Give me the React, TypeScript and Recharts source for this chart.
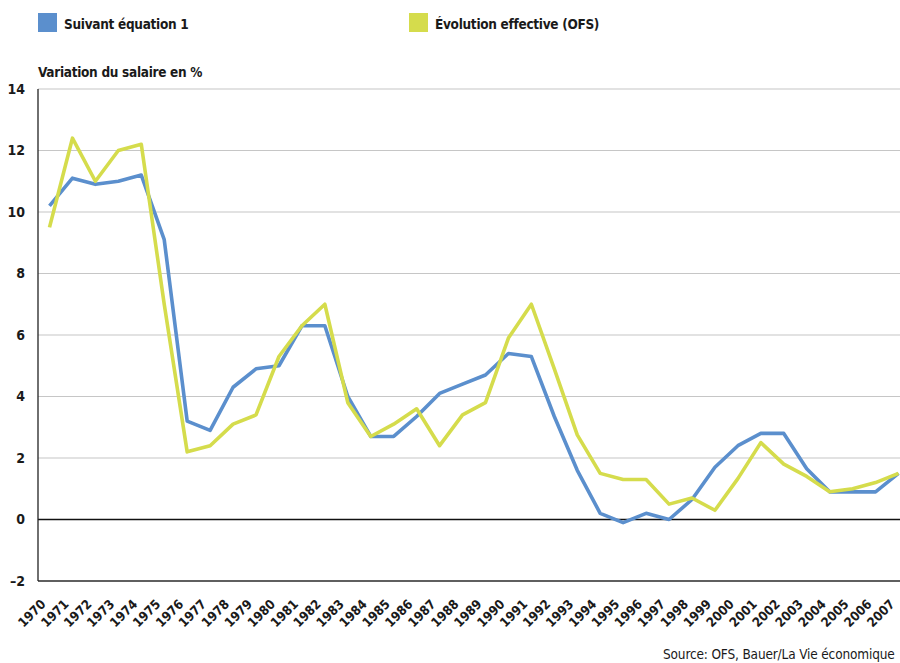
import React from 'react';
import { LineChart, Line, XAxis, YAxis, CartesianGrid, ReferenceLine } from 'recharts';

const years = [
  '1970', '1971', '1972', '1973', '1974', '1975', '1976', '1977', '1978', '1979',
  '1980', '1981', '1982', '1983', '1984', '1985', '1986', '1987', '1988', '1989',
  '1990', '1991', '1992', '1993', '1994', '1995', '1996', '1997', '1998', '1999',
  '2000', '2001', '2002', '2003', '2004', '2005', '2006', '2007',
];

const suivantEquation = [
  10.2, 11.1, 10.9, 11.0, 11.2, 9.1, 3.2, 2.9, 4.3, 4.9,
  5.0, 6.3, 6.3, 4.0, 2.7, 2.7, 3.35, 4.1, 4.4, 4.7,
  5.4, 5.3, 3.35, 1.6, 0.2, -0.1, 0.2, 0.0, 0.65, 1.7,
  2.4, 2.8, 2.8, 1.65, 0.9, 0.9, 0.9, 1.5,
];

const evolutionEffective = [
  9.5, 12.4, 11.0, 12.0, 12.2, 7.0, 2.2, 2.4, 3.1, 3.4,
  5.3, 6.3, 7.0, 3.8, 2.7, 3.1, 3.6, 2.4, 3.4, 3.8,
  5.9, 7.0, 4.9, 2.75, 1.5, 1.3, 1.3, 0.5, 0.7, 0.3,
  1.33, 2.5, 1.8, 1.4, 0.9, 1.0, 1.2, 1.5,
];

const yTicks = [-2, 0, 2, 4, 6, 8, 10, 12, 14];

const legendLabels = ['Suivant équation 1', 'Évolution effective (OFS)'];
const axisTitle = 'Variation du salaire en %';
const sourceText = 'Source: OFS, Bauer/La Vie économique';

const BLUE = '#5b8fcd';
const YELLOW = '#d5dc4c';
const FONT = "'Liberation Sans Narrow', 'DejaVu Sans Condensed', 'Arial Narrow', sans-serif";

const data = years.map((year, i) => ({
  year,
  eq: suivantEquation[i],
  ofs: evolutionEffective[i],
}));

const XTick = (props: any) => {
  const { x, y, payload } = props;
  return (
    <g transform={`translate(${x - 3},${y + 16})`}>
      <text
        transform="rotate(-45)"
        textAnchor="end"
        fontFamily={FONT}
        fontWeight="bold"
        fontSize={13}
        fill="#1a1a1a"
      >
        {payload.value}
      </text>
    </g>
  );
};

const fmtY = (v: number) => (v < 0 ? `\u2013${Math.abs(v)}` : `${v}`);

const labelStyle: React.CSSProperties = {
  position: 'absolute',
  lineHeight: '20px',
  fontSize: 13.5,
  letterSpacing: -0.3,
  fontWeight: 'bold',
  color: '#1a1a1a',
  whiteSpace: 'nowrap',
};

export default function App() {
  return (
    <div
      style={{
        position: 'absolute',
        left: 0,
        top: 0,
        width: 900,
        height: 663,
        overflow: 'hidden',
        background: '#ffffff',
        fontFamily: FONT,
      }}
    >
      <div style={{ position: 'absolute', left: 38, top: 13, width: 19, height: 19, background: BLUE }} />
      <div style={{ ...labelStyle, left: 64, top: 14 }}>{legendLabels[0]}</div>
      <div style={{ position: 'absolute', left: 409, top: 13, width: 19, height: 19, background: YELLOW }} />
      <div style={{ ...labelStyle, left: 435, top: 14 }}>{legendLabels[1]}</div>
      <div style={{ ...labelStyle, left: 38, top: 62 }}>{axisTitle}</div>
      <div
        style={{
          position: 'absolute',
          left: 663,
          top: 644,
          lineHeight: '20px',
          fontSize: 13.5,
          letterSpacing: -0.15,
          color: '#1a1a1a',
          whiteSpace: 'nowrap',
        }}
      >
        {sourceText}
      </div>
      <div style={{ position: 'absolute', left: 0, top: 0 }}>
        <LineChart
          width={910}
          height={663}
          data={data}
          margin={{ top: 89, right: 0, bottom: 22, left: 0 }}
        >
          <CartesianGrid vertical={false} stroke="#c6c6c6" strokeWidth={1.2} />
          <XAxis
            dataKey="year"
            interval={0}
            height={60}
            padding={{ left: 11.5, right: 11.5 }}
            tickLine={false}
            axisLine={{ stroke: '#333333', strokeWidth: 1.5 }}
            tick={<XTick />}
          />
          <YAxis
            width={38}
            domain={[-2, 14]}
            ticks={yTicks}
            interval={0}
            tickFormatter={fmtY}
            tickLine={false}
            tickMargin={7}
            axisLine={{ stroke: '#222222', strokeWidth: 1.3 }}
            tick={{ fontFamily: FONT, fontWeight: 'bold', fontSize: 14, fill: '#1a1a1a' }}
          />
          <ReferenceLine y={0} stroke="#111111" strokeWidth={1.3} />
          <Line
            type="linear"
            dataKey="eq"
            stroke={BLUE}
            strokeWidth={3.6}
            strokeLinejoin="round"
            dot={false}
            activeDot={false}
            isAnimationActive={false}
          />
          <Line
            type="linear"
            dataKey="ofs"
            stroke={YELLOW}
            strokeWidth={3.6}
            strokeLinejoin="round"
            dot={false}
            activeDot={false}
            isAnimationActive={false}
          />
        </LineChart>
      </div>
    </div>
  );
}
